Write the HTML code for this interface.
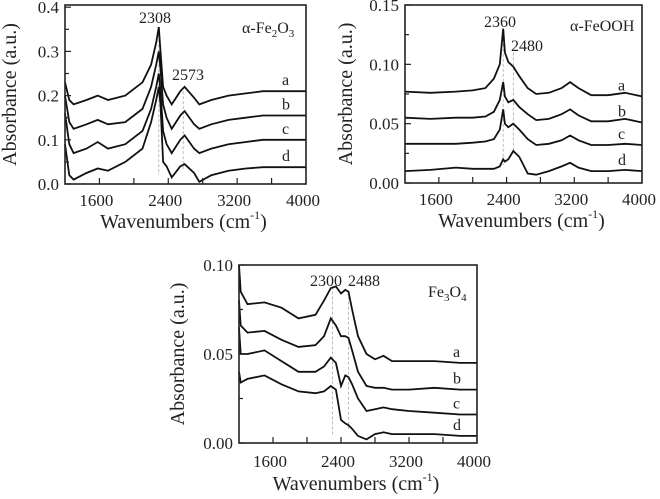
<!DOCTYPE html>
<html><head><meta charset="utf-8"><style>
body{margin:0;background:#fff;}
svg text{font-family:"Liberation Serif",serif;fill:#222;}
</style></head><body>
<svg id="fig" width="660" height="494" viewBox="0 0 660 494"></svg>
<script>
// ---------- data ----------
const wn1 = [1200,1250,1300,1450,1580,1700,1900,2100,2200,2260,2290,2310,2340,2380,2440,2540,2590,2700,2760,2900,3100,3300,3500,4000];
const p1a = [0.23,0.19,0.18,0.19,0.20,0.19,0.20,0.23,0.27,0.32,0.355,0.30,0.22,0.20,0.18,0.21,0.22,0.195,0.18,0.19,0.20,0.205,0.21,0.21];
const p1b = [0.20,0.14,0.125,0.135,0.145,0.135,0.14,0.17,0.22,0.27,0.30,0.26,0.18,0.15,0.125,0.155,0.165,0.135,0.125,0.135,0.145,0.15,0.155,0.155];
const p1c = [0.16,0.09,0.07,0.08,0.095,0.08,0.09,0.12,0.17,0.22,0.25,0.21,0.12,0.09,0.07,0.10,0.11,0.08,0.07,0.08,0.09,0.095,0.10,0.10];
const p1d = [0.09,0.02,0.01,0.025,0.035,0.03,0.05,0.08,0.14,0.19,0.22,0.18,0.05,0.04,0.015,0.04,0.045,0.025,0.005,0.02,0.03,0.035,0.038,0.038];

const wn2 = [1200,1500,1800,2000,2150,2250,2320,2360,2380,2420,2480,2550,2650,2750,2900,3050,3150,3250,3400,3600,3800,4000];
const p2a = [0.077,0.076,0.077,0.078,0.08,0.088,0.10,0.13,0.11,0.102,0.098,0.09,0.08,0.075,0.076,0.08,0.085,0.08,0.074,0.074,0.076,0.073];
const p2b = [0.055,0.054,0.055,0.055,0.056,0.06,0.07,0.085,0.073,0.068,0.07,0.064,0.058,0.053,0.054,0.058,0.062,0.057,0.052,0.052,0.054,0.051];
const p2c = [0.033,0.033,0.033,0.034,0.035,0.037,0.045,0.062,0.05,0.047,0.05,0.045,0.037,0.032,0.033,0.036,0.04,0.036,0.032,0.032,0.033,0.032];
const p2d = [0.01,0.011,0.013,0.012,0.012,0.012,0.014,0.02,0.018,0.02,0.027,0.022,0.008,0.007,0.01,0.014,0.017,0.013,0.01,0.01,0.011,0.01];

const wn3 = [1200,1220,1300,1500,1700,1900,2100,2200,2280,2340,2400,2450,2488,2530,2600,2700,2800,2900,3000,3200,3500,3800,4000];
const p3a = [0.10,0.085,0.078,0.079,0.076,0.070,0.072,0.08,0.087,0.088,0.084,0.086,0.085,0.075,0.06,0.05,0.047,0.049,0.046,0.046,0.046,0.045,0.045];
const p3b = [0.08,0.066,0.062,0.063,0.058,0.054,0.055,0.06,0.07,0.066,0.06,0.060,0.059,0.052,0.04,0.032,0.031,0.031,0.030,0.030,0.031,0.030,0.030];
const p3c = [0.065,0.05,0.05,0.052,0.046,0.04,0.04,0.043,0.048,0.045,0.032,0.038,0.037,0.033,0.025,0.018,0.019,0.02,0.019,0.018,0.017,0.016,0.016];
const p3d = [0.04,0.034,0.036,0.038,0.033,0.029,0.028,0.029,0.032,0.03,0.013,0.011,0.010,0.008,0.004,0.002,0.005,0.006,0.005,0.005,0.005,0.004,0.004];

const xTicks = [1600,2400,3200,4000];
const yTicks1 = ["0.0","0.1","0.2","0.3","0.4"];
const yTicks2 = ["0.00","0.05","0.10","0.15"];
const yTicks3 = ["0.00","0.05","0.10"];
const curveLabels = ["a","b","c","d"];

// ---------- drawing ----------
const NS="http://www.w3.org/2000/svg";
const svg=document.getElementById('fig');
function mk(tag,attrs,parent){const e=document.createElementNS(NS,tag);for(const k in attrs)e.setAttribute(k,attrs[k]);(parent||svg).appendChild(e);return e;}

function panel(cfg){
  const g=mk('g',{});
  
  
  const {L,R,T,B,ymax}=cfg;
  const sx=w=>L+(w-1200)/2800*(R-L);
  const sy=v=>B-v/ymax*(B-T);
  cfg.guides.forEach(gl=>{
    const l=mk('line',{x1:sx(gl[0]),x2:sx(gl[0]),y1:sy(gl[1]),y2:sy(gl[2]),stroke:'#aaa','stroke-width':0.8,'stroke-dasharray':'3,2'},g);
    
    
  });
  cfg.series.forEach((vals,i)=>{
    const pts=cfg.wn.map((w,j)=>sx(w).toFixed(1)+','+sy(vals[j]).toFixed(1)).join(' ');
    const pl=mk('polyline',{points:pts,fill:'none',stroke:'#111','stroke-width':1.8,'stroke-linejoin':'miter'},g);
    
    
    const t=mk('text',{x:R-24,y:sy(vals[vals.length-1])-6,'font-size':16},g);
    t.textContent=curveLabels[i];
    
    
  });
  const fr=mk('rect',{x:L,y:T,width:R-L,height:B-T,fill:'none',stroke:'#222','stroke-width':1.6},g);
  
  
  for(let w=1600;w<4000;w+=400){
    mk('line',{x1:sx(w),x2:sx(w),y1:B,y2:B-6,stroke:'#222','stroke-width':1.2},g);
  }
  xTicks.forEach(w=>{
    const t=mk('text',{x:sx(w)-3,y:B+cfg.xlo,'font-size':17,'text-anchor':'middle'},g);
    t.textContent=w;
    
    
  });
  cfg.yt.forEach((s,i)=>{
    const v=parseFloat(s);
    mk('line',{x1:L,x2:L+6,y1:sy(v),y2:sy(v),stroke:'#222','stroke-width':1.2},g);
    if(i<cfg.yt.length-1){const vm=v+(parseFloat(cfg.yt[1])-parseFloat(cfg.yt[0]))/2;mk('line',{x1:L,x2:L+4,y1:sy(vm),y2:sy(vm),stroke:'#222','stroke-width':1.2},g);}
    const t=mk('text',{x:L-6,y:sy(v)+6,'font-size':17,'text-anchor':'end'},g);
    t.textContent=s;
    
    
  });
  const xt=mk('text',{x:(L+R)/2-2,y:B+cfg.xto,'font-size':20,'text-anchor':'middle'},g);
  xt.innerHTML='Wavenumbers (cm<tspan dy="-9" font-size="12">-1</tspan><tspan dy="9">)</tspan>';
  
  
  const yx=cfg.ytx, yy=(T+B)/2;
  const yt=mk('text',{x:yx,y:yy,'font-size':20,'text-anchor':'middle',transform:`rotate(-90 ${yx} ${yy})`},g);
  yt.textContent='Absorbance (a.u.)';
  
  
  cfg.notes.forEach(n=>{
    const t=mk('text',{x:n[0],y:n[1],'font-size':16},g);
    t.innerHTML=n[2];
    
    
  });
}

panel({name:'panel-fe2o3',L:65,R:306,T:5,B:184,ymax:0.405,wn:wn1,series:[p1a,p1b,p1c,p1d],yt:yTicks1,ytx:16,xlo:22,xto:44,
  guides:[[2290,0.35,0.02],[2573,0.21,0.03]],
  notes:[[139,23,'2308','peak-label-2308'],[172,80,'2573','peak-label-2573'],[242,33,'α-Fe<tspan dy="4" font-size="11">2</tspan><tspan dy="-4">O</tspan><tspan dy="4" font-size="11">3</tspan>','sample-title-fe2o3']]});
panel({name:'panel-feooh',L:405,R:642,T:5,B:183,ymax:0.15,wn:wn2,series:[p2a,p2b,p2c,p2d],yt:yTicks2,ytx:352,xlo:22,xto:44,
  guides:[[2360,0.13,0.015],[2480,0.11,0.025]],
  notes:[[484,27,'2360','peak-label-2360'],[511,51,'2480','peak-label-2480'],[570,31,'α-FeOOH','sample-title-feooh']]});
panel({name:'panel-fe3o4',L:239,R:477,T:265,B:443,ymax:0.10,wn:wn3,series:[p3a,p3b,p3c,p3d],yt:yTicks3,ytx:184,xlo:24,xto:47,
  guides:[[2300,0.088,0.005],[2488,0.085,0.008]],
  notes:[[310,286,'2300','peak-label-2300'],[348,286,'2488','peak-label-2488'],[428,297,'Fe<tspan dy="4" font-size="11">3</tspan><tspan dy="-4">O</tspan><tspan dy="4" font-size="11">4</tspan>','sample-title-fe3o4']]});
</script>
</body></html>
